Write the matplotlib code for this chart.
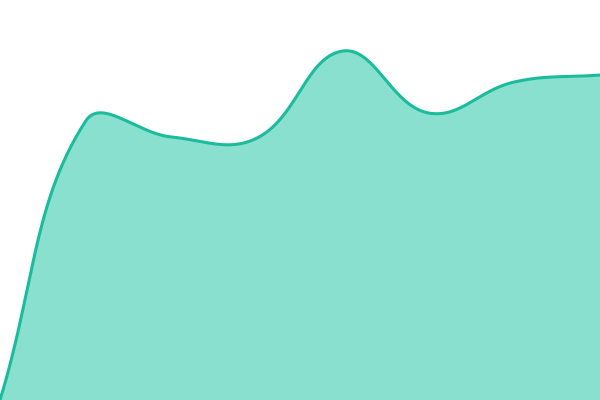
import numpy as np
import matplotlib
matplotlib.use("Agg")
import matplotlib.pyplot as plt

labels = ["1", "2", "3", "4", "5", "6", "7", "8"]
values = [0, 279, 263, 262, 349, 287, 318, 325]

LINE = "#1abc9c"
FILL = "#8ae0cf"
TENSION = 0.4

fig = plt.figure(figsize=(6, 4), dpi=100)
ax = fig.add_axes([0, 0, 1, 1])
ax.set_xlim(0, len(values) - 1)
ax.set_ylim(0, 400)
ax.axis("off")

x = np.arange(len(values), dtype=float)
pts = ax.transData.transform(np.column_stack([x, values]))
W, H = fig.bbox.width, fig.bbox.height

n = len(pts)
cp_prev = np.zeros_like(pts)
cp_next = np.zeros_like(pts)
for i in range(n):
    prev = pts[i - 1] if i > 0 else pts[i]
    cur = pts[i]
    nxt = pts[i + 1] if i < n - 1 else pts[i]
    d01 = np.hypot(*(cur - prev))
    d12 = np.hypot(*(nxt - cur))
    tot = d01 + d12
    s01 = d01 / tot if tot else 0
    s12 = d12 / tot if tot else 0
    fa = TENSION * s01
    fb = TENSION * s12
    cp_prev[i] = cur - fa * (nxt - prev)
    cp_next[i] = cur + fb * (nxt - prev)
# cap control points within chart area
for arr in (cp_prev, cp_next):
    arr[:, 0] = np.clip(arr[:, 0], 0, W)
    arr[:, 1] = np.clip(arr[:, 1], 0, H)

curve = []
t = np.linspace(0, 1, 60)[:, None]
for i in range(n - 1):
    p0, p1, p2, p3 = pts[i], cp_next[i], cp_prev[i + 1], pts[i + 1]
    seg = ((1 - t) ** 3) * p0 + 3 * ((1 - t) ** 2) * t * p1 + 3 * (1 - t) * t ** 2 * p2 + t ** 3 * p3
    curve.append(seg if i == 0 else seg[1:])
curve = np.vstack(curve)
data = ax.transData.inverted().transform(curve)

ax.fill_between(data[:, 0], data[:, 1], 0, color=FILL, linewidth=0)
ax.plot(data[:, 0], data[:, 1], color=LINE, linewidth=2.2, solid_capstyle="round", clip_on=False)

fig.savefig("out.png", dpi=100)
